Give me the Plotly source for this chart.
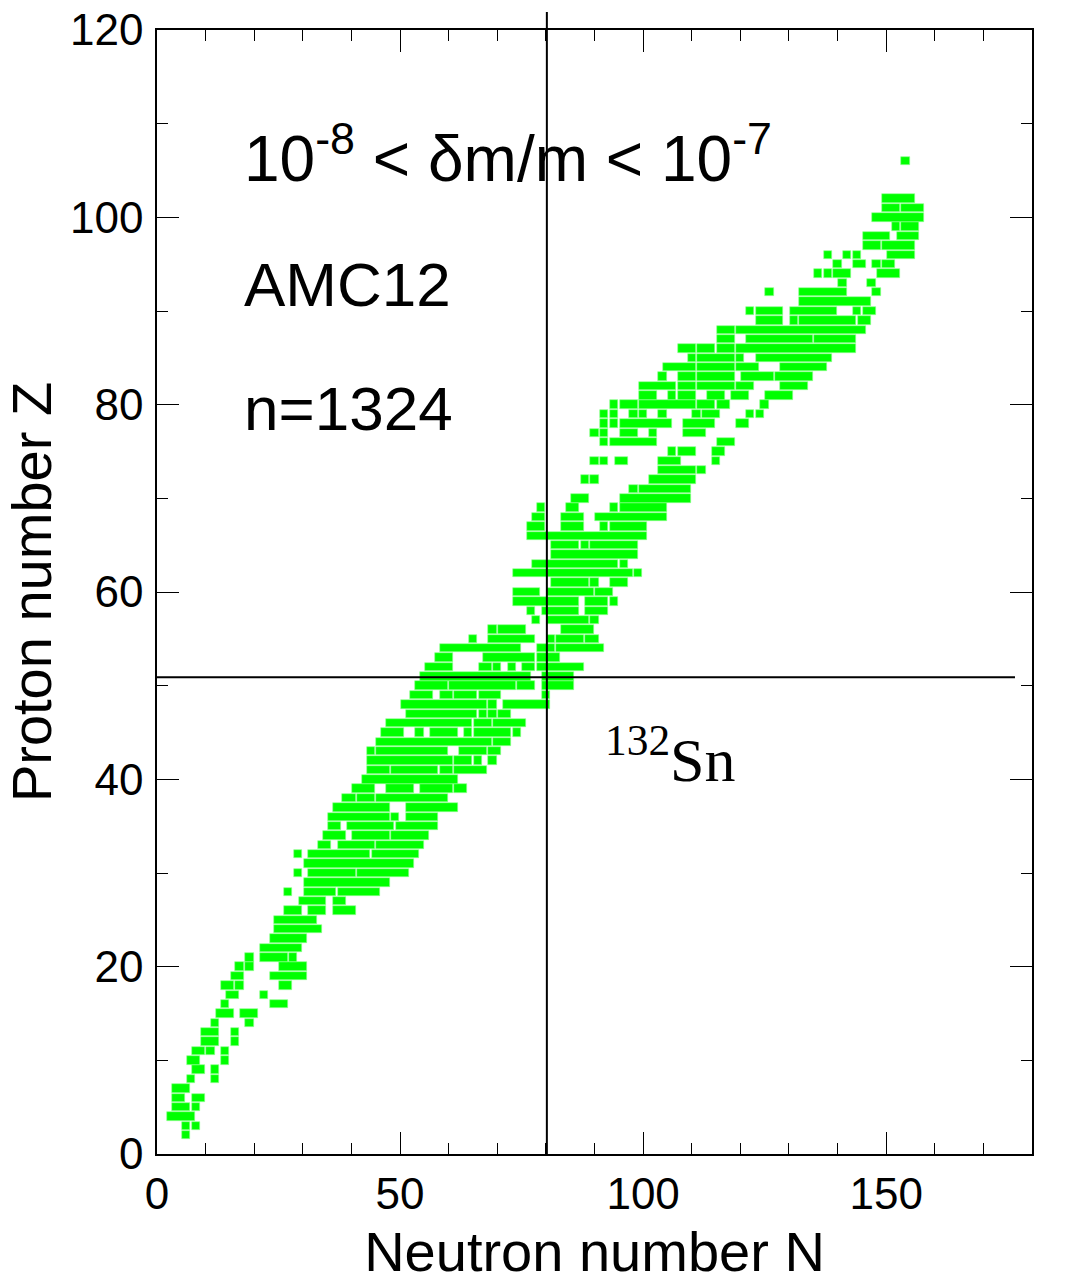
import numpy as np
import plotly.graph_objects as go

# Nuclides with 1e-8 < dm/m < 1e-7 (AMC12), read off the chart as runs of
# consecutive neutron numbers N (first..last) for each proton number Z.
seg_z = [
    2, 3, 3, 4, 5, 5, 6, 6, 7, 8, 8, 9, 9, 10, 10, 11, 11, 11,
    12, 12, 13, 13, 14, 14, 15, 15, 16, 16, 17, 17, 18, 18, 18,
    19, 19, 20, 20, 20, 21, 21, 21, 22, 23, 24, 25, 26, 26, 26,
    27, 27, 28, 28, 28, 29, 30, 30, 30, 31, 32, 32, 32, 33, 33, 33,
    34, 34, 34, 35, 35, 35, 36, 36, 36, 37, 37, 38, 38, 38,
    39, 39, 39, 39, 40, 41, 41, 41, 41, 42, 42, 42, 42,
    43, 43, 43, 43, 44, 44, 45, 45, 45, 45, 45, 45, 46, 46, 46,
    47, 47, 47, 47, 48, 48, 48, 49, 49, 49, 49, 49, 50, 50, 50, 50,
    51, 51, 52, 52, 52, 52, 52, 52, 53, 53, 53, 54, 54, 54,
    55, 55, 55, 55, 55, 56, 56, 56, 57, 57, 57, 58, 58, 58,
    59, 59, 59, 60, 60, 60, 61, 61, 61, 62, 62, 63, 63, 64,
    65, 65, 65, 66, 67, 67, 67, 67, 68, 68, 68, 69, 69, 69, 69,
    70, 70, 71, 71, 72, 72, 72, 73, 73, 74, 74, 74, 74, 74,
    75, 75, 75, 76, 76, 76, 77, 77, 77, 77, 77, 78, 78, 78, 78, 78,
    79, 79, 79, 79, 79, 79, 79, 79, 79, 80, 80, 80, 80, 80, 80,
    81, 81, 81, 81, 81, 81, 82, 82, 82, 82, 82, 83, 83, 83, 83, 83,
    84, 84, 84, 84, 85, 85, 85, 85, 86, 86, 86, 86, 87, 87, 87, 88, 88,
    89, 89, 89, 89, 90, 90, 90, 90, 90, 91, 92, 92, 92, 93, 93,
    94, 94, 94, 94, 95, 95, 95, 95, 96, 96, 96, 96, 97, 97, 98, 98,
    99, 99, 100, 101, 101, 102, 106,
]
seg_n_first = [
    6, 6, 8, 3, 4, 8, 4, 8, 4, 7, 12, 8, 12, 7, 14, 8, 11, 14,
    10, 16, 10, 16, 12, 19, 13, 18, 14, 24, 15, 22, 14, 17, 26,
    16, 24, 17, 19, 26, 19, 22, 28, 22, 24, 25, 25, 27, 32, 37,
    30, 37, 27, 31, 38, 31, 29, 32, 42, 31, 29, 32, 45, 34, 38, 46,
    35, 41, 49, 36, 40, 50, 36, 49, 52, 37, 52, 39, 42, 46,
    41, 48, 55, 62, 43, 44, 49, 59, 62, 44, 62, 66, 69,
    44, 46, 63, 69, 46, 70, 47, 54, 57, 64, 66, 74, 48, 66, 70,
    52, 67, 69, 71, 51, 69, 72, 53, 59, 62, 67, 80, 54, 61, 75, 80,
    55, 80, 56, 67, 70, 73, 76, 79, 58, 68, 79, 59, 79, 83,
    65, 69, 81, 83, 89, 69, 71, 84, 78, 81, 90, 77, 80, 89,
    74, 89, 94, 74, 81, 91, 82, 90, 94, 74, 99, 78, 96, 82,
    82, 88, 90, 77, 77, 84, 92, 94, 78, 84, 91, 79, 85, 94, 96,
    86, 96, 98, 100, 88, 90, 102, 104, 112, 90, 92, 95, 104, 115,
    106, 108, 115, 92, 94, 116, 90, 92, 96, 102, 109, 92, 94, 96, 109, 120,
    92, 94, 98, 100, 104, 111, 113, 122, 124, 94, 96, 100, 112, 116, 125,
    100, 106, 108, 114, 119, 126, 100, 108, 112, 120, 129, 104, 108, 112, 121, 128,
    105, 112, 120, 129, 110, 112, 120, 124, 108, 112, 116, 120, 116, 122, 136, 116, 120,
    124, 131, 133, 145, 122, 124, 131, 144, 146, 133, 126, 133, 148, 141, 147,
    136, 138, 140, 149, 140, 144, 148, 150, 138, 142, 144, 151, 146, 150, 146, 153,
    152, 154, 148, 150, 154, 150, 154,
]
seg_n_last = [
    6, 6, 8, 7, 6, 8, 5, 9, 6, 7, 12, 9, 12, 8, 14, 9, 11, 14,
    12, 16, 12, 16, 12, 19, 15, 20, 14, 26, 16, 22, 15, 17, 27,
    17, 30, 17, 19, 30, 19, 26, 28, 29, 30, 33, 32, 29, 34, 40,
    34, 38, 27, 36, 45, 47, 29, 40, 51, 52, 29, 43, 53, 35, 44, 54,
    38, 47, 55, 37, 48, 57, 47, 49, 57, 47, 61, 40, 44, 59,
    44, 52, 60, 63, 61, 47, 57, 60, 67, 60, 64, 66, 69,
    44, 59, 67, 70, 68, 72, 50, 54, 61, 64, 72, 74, 64, 68, 75,
    65, 67, 69, 72, 67, 69, 80, 56, 60, 65, 70, 80, 59, 73, 77, 85,
    76, 85, 60, 68, 70, 73, 77, 87, 60, 77, 82, 74, 81, 91,
    65, 77, 81, 87, 90, 69, 75, 89, 78, 88, 90, 77, 86, 92,
    86, 92, 94, 78, 89, 93, 88, 90, 96, 97, 99, 94, 96, 98,
    86, 88, 98, 100, 79, 87, 92, 100, 79, 87, 104, 79, 86, 94, 104,
    88, 109, 98, 109, 88, 90, 110, 110, 112, 90, 92, 96, 107, 115,
    106, 110, 116, 92, 102, 118, 90, 92, 98, 102, 112, 92, 94, 105, 114, 121,
    92, 94, 98, 100, 104, 111, 115, 122, 124, 94, 98, 110, 114, 117, 125,
    102, 106, 110, 116, 121, 130, 106, 110, 118, 122, 133, 104, 110, 118, 126, 134,
    110, 118, 123, 137, 110, 118, 120, 138, 110, 114, 118, 143, 118, 134, 143, 118, 145,
    128, 131, 143, 146, 122, 128, 139, 144, 147, 146, 126, 141, 148, 141, 147,
    136, 138, 142, 152, 140, 145, 148, 151, 138, 142, 144, 155, 148, 155, 150, 156,
    152, 156, 157, 152, 157, 155, 154,
]

x_ticks = [0, 50, 100, 150]
y_ticks = [0, 20, 40, 60, 80, 100, 120]
x_range = [0, 180]
y_range = [0, 120]
magic_n = 80.2      # reference line N
magic_z = 50.9      # reference line Z
hline_end_n = 176.5

GREEN = "rgb(0,255,0)"
half_w = 0.855      # half-width of a nuclide square, in N units

z = np.array(seg_z, dtype=float)
n0 = np.array(seg_n_first, dtype=float)
n1 = np.array(seg_n_last, dtype=float)

fig = go.Figure()
fig.add_trace(go.Bar(
    orientation="h",
    y=z,
    base=n0 - half_w,
    x=(n1 - n0) + 2 * half_w,
    width=0.9,
    marker=dict(color=GREEN, line=dict(width=0.6, color="rgb(150,255,150)")),
    hoverinfo="skip",
    showlegend=False,
))

TXT = "Liberation Sans, Arial, Helvetica, sans-serif"
TICKFONT = dict(family=TXT, size=44, color="black")

axis_common = dict(
    showline=True, linecolor="black", linewidth=1.5, mirror="allticks",
    ticks="inside", ticklen=22, tickwidth=1.2, tickcolor="black",
    showgrid=False, zeroline=False, tickfont=TICKFONT, automargin=False,
    ticklabeloverflow="allow",
    minor=dict(ticks="inside", ticklen=11, tickwidth=1.2, tickcolor="black", showgrid=False),
)

fig.update_layout(
    width=1077, height=1283,
    margin=dict(l=157, r=45, t=30, b=129),
    paper_bgcolor="white", plot_bgcolor="white",
    barmode="overlay", bargap=0,
    xaxis=dict(range=x_range, tickvals=x_ticks, autorange=False,
               title=dict(text="Neutron number N", font=dict(family=TXT, size=56, color="black"),
                          standoff=30),
               **axis_common),
    yaxis=dict(range=y_range, tickvals=y_ticks, autorange=False,
               title=dict(text="Proton number Z", font=dict(family=TXT, size=56, color="black"),
                          standoff=0),
               **axis_common),
)
fig.update_xaxes(minor_dtick=10, minor_tick0=0, ticklabelstandoff=0)
fig.update_yaxes(minor_dtick=10, minor_tick0=0, ticklabelstandoff=3)

# reference lines through the N=82 / Z=50 region
fig.add_shape(type="line", xref="paper", yref="paper",
              x0=magic_n / x_range[1], x1=magic_n / x_range[1], y0=0, y1=1.016,
              line=dict(color="black", width=2))
fig.add_shape(type="line", xref="paper", yref="y",
              x0=0, x1=hline_end_n / x_range[1], y0=magic_z, y1=magic_z,
              line=dict(color="black", width=2))

fig.add_annotation(x=17.4, y=106.8, xref="x", yref="y", xanchor="left", yanchor="middle",
                   text="10<sup>-8</sup> < δm/m < 10<sup>-7</sup>", showarrow=False,
                   font=dict(family=TXT, size=64, color="black"))
fig.add_annotation(x=17.4, y=92.8, xref="x", yref="y", xanchor="left", yanchor="middle",
                   text="AMC12", showarrow=False,
                   font=dict(family=TXT, size=62, color="black"))
fig.add_annotation(x=17.4, y=79.6, xref="x", yref="y", xanchor="left", yanchor="middle",
                   text="n=1324", showarrow=False,
                   font=dict(family=TXT, size=62, color="black"))
fig.add_annotation(x=91.8, y=42.6, xref="x", yref="y", xanchor="left", yanchor="middle",
                   text="<sup>132</sup>Sn", showarrow=False,
                   font=dict(family="Liberation Serif, Times New Roman, serif", size=62, color="black"))

# remove the default page-body margin so the figure sits at the window's corner
fig.write_html("out.html", config={"displayModeBar": False},
               post_script="document.body.style.margin='0';document.body.style.overflow='hidden';")
